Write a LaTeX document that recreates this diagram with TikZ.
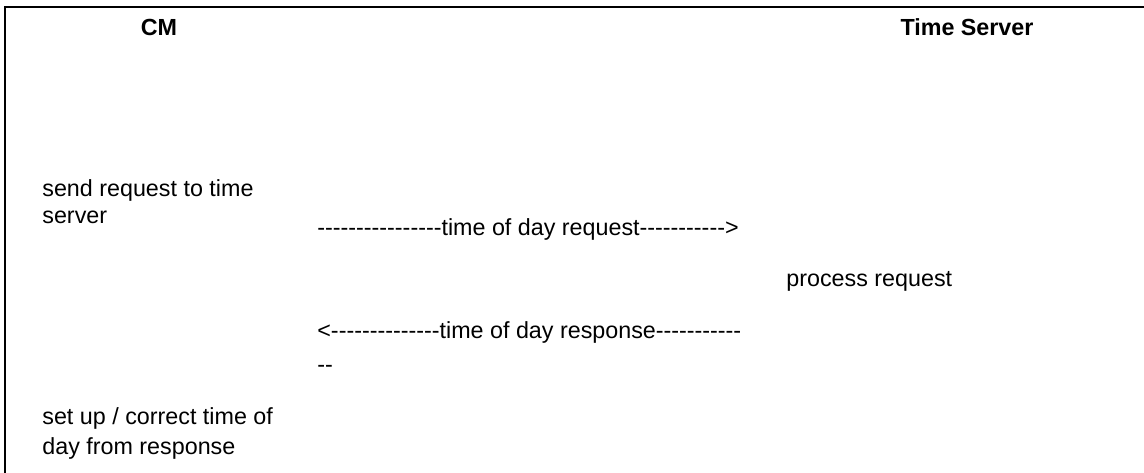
\documentclass[tikz,border=0pt]{standalone}
\usepackage{fontspec}
\setmainfont{Liberation Sans}[Ligatures=TeXOff]
\newcommand\dsh[1]{\foreach \i in {1,...,#1}{-\kern0pt}}
\begin{document}
\begin{tikzpicture}[x=0.515pt,y=-0.515pt,
  txt/.style={anchor=base west,inner sep=0pt,font=\fontsize{12}{14}\selectfont},
  hdr/.style={anchor=base,inner sep=0pt,font=\fontsize{12}{14}\selectfont\bfseries},
  frame/.style={line width=1.1pt,line cap=rect}]
\useasboundingbox (0,0) rectangle (1144,473);
\draw[frame] (5,473) -- (5,7) -- (1144,7);
\node[hdr] (cm) at (159,36) {CM};
\node[hdr] (ts) at (967,36) {Time Server};
\node[txt] (send1) at (42,197) {send request to time};
\node[txt] (send2) at (42,224) {server};
\node[txt] (req) at (317,236) {\dsh{16}time of day request\dsh{11}>};
\node[txt] (proc) at (786,287) {process request};
\node[txt] (resp) at (317,339) {<\dsh{14}time of day response\dsh{11}};
\node[txt] (resp2) at (317,373) {\dsh{2}};
\node[txt] (set1) at (42,425) {set up / correct time of};
\node[txt] (set2) at (42,455) {day from response};
\end{tikzpicture}
\end{document}
